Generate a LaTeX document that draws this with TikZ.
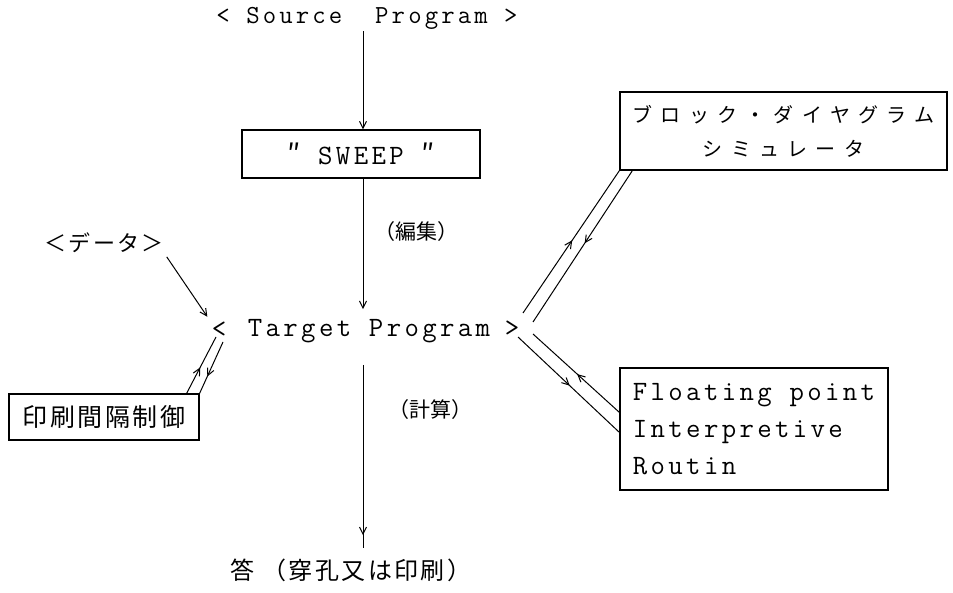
\documentclass[tikz,border=0pt]{standalone}
\usepackage{fontspec}
\newfontfamily\lat[LetterSpace=12]{Latin Modern Mono}
\newfontfamily\cjk{Noto Sans CJK JP}
\newfontfamily\cjkwide[LetterSpace=42]{Noto Sans CJK JP}
\newfontfamily\cjkmid[LetterSpace=10]{Noto Sans CJK JP}
\usetikzlibrary{arrows.meta,decorations.markings}
\tikzset{
  conn/.style={line width=1pt, black},
  tipend/.style={-{Straight Barb[length=7pt,width=7pt,line width=1pt]}},
  midarrow/.style={postaction={decorate}, decoration={markings,
      mark=at position #1 with {\arrow{Straight Barb[length=7pt,width=7pt,line width=1pt]}}}},
  boxed/.style={draw, line width=1.2pt, inner sep=0pt},
  plain/.style={inner sep=2pt},
  latfont/.style={font=\fontsize{28}{37}\selectfont\lat},
}
\begin{document}
\begin{tikzpicture}[x=1pt,y=-1pt]
\useasboundingbox[fill=white] (0,0) rectangle (953,593);

% texts
\node[plain, font=\fontsize{26}{28}\selectfont\lat] (src) at (367,18) {< Source\ \ Program >};
\node[boxed, minimum width=238pt, minimum height=48pt, latfont] (sweep) at (361,154) {{\cjk ″}\ SWEEP\ {\cjk ″}};
\node[plain, font=\fontsize{21}{26}\selectfont\cjk] (edit) at (416,232) {（編集）};
\node[plain, font=\fontsize{22}{26}\selectfont\cjkmid] (data) at (104,243) {＜データ＞};
\node[plain, latfont] (tgt) at (369,331) {Target Program};
\node[plain, latfont] (lt) at (219,330) {<};
\node[plain, latfont] (gt) at (512,329) {>};
\node[plain, font=\fontsize{21}{26}\selectfont\cjk] (calc) at (430,410) {（計算）};
\node[boxed, minimum width=190pt, minimum height=46pt, font=\fontsize{25}{30}\selectfont\cjkmid] (print) at (104,417) {印刷間隔制御};
\node[boxed, minimum width=327pt, minimum height=78pt, align=center, font=\fontsize{20}{34}\selectfont\cjkwide] (block) at (783.5,131) {ブロック・ダイヤグラム\\シミュレータ};
\node[boxed, minimum width=268pt, minimum height=122pt, align=left, latfont] (float) at (754,429) {Floating point\\Interpretive\\Routin};
\node[plain, font=\fontsize{24}{28}\selectfont\cjkmid] (ans) at (351,570) {答 （穿孔又は印刷）};

% main vertical flow
\draw[conn, tipend] (src.south -| sweep.north) ++(2,0) coordinate (s0) -- (s0 |- sweep.north);
\draw[conn, tipend, shorten >=8pt] ([xshift=2pt]sweep.south) -- ([xshift=2pt]sweep.south |- tgt.north);
\coordinate (d0) at (363,365);
\coordinate (d1) at (363,548);
\draw[conn, midarrow=0.93] (d0) -- (d1);

% data arrow
\draw[conn, tipend, shorten <=2pt, shorten >=4pt] (data.south east) -- (lt.north west);

% print box double line
\coordinate (pl1) at (216,337);
\coordinate (pl2) at (223,342);
\draw[conn, midarrow=0.46] ([xshift=-13pt]print.north east) -- (pl1);
\draw[conn, midarrow=0.67] (pl2) -- (print.north east);

% block double line
\coordinate (bl1) at (523,313);
\coordinate (bl2) at (533,322);
\draw[conn, midarrow=0.51] (bl1) -- (block.south west);
\draw[conn, midarrow=0.48] ([xshift=13pt]block.south west) -- (bl2);

% floating box double line
\coordinate (fl1) at (533,334);
\coordinate (fl2) at (518,337);
\draw[conn, midarrow=0.49] ([yshift=-45pt]float.north west) -- (fl1);
\draw[conn, midarrow=0.51] (fl2) -- ([yshift=-65pt]float.north west);
\end{tikzpicture}
\end{document}
